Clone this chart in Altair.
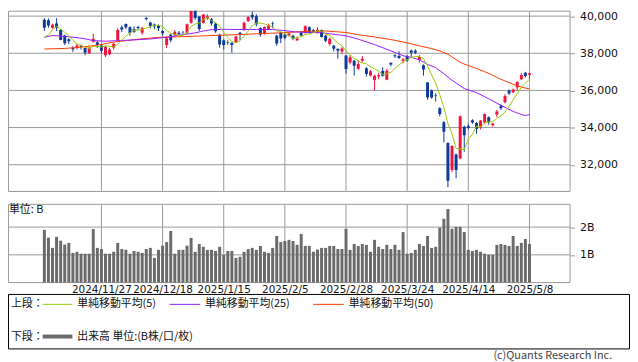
import altair as alt
import pandas as pd

# ---------------- data ----------------
month_days = [
    ("2024/11", [7, 8, 11, 12, 13, 14, 15, 18, 19, 20, 21, 22, 25, 26, 27, 28, 29]),
    ("2024/12", [2, 3, 4, 5, 6, 9, 10, 11, 12, 13, 16, 17, 18, 19, 20, 23, 24, 25, 26, 27, 30]),
    ("2025/1", [6, 7, 8, 9, 10, 14, 15, 16, 17, 20, 21, 22, 23, 24, 27, 28, 29, 30, 31]),
    ("2025/2", [3, 4, 5, 6, 7, 10, 12, 13, 14, 17, 18, 19, 20, 21, 25, 26, 27, 28]),
    ("2025/3", [3, 4, 5, 6, 7, 10, 11, 12, 13, 14, 17, 18, 19, 21, 24, 25, 26, 27, 28, 31]),
    ("2025/4", [1, 2, 3, 4, 7, 8, 9, 10, 11, 14, 15, 16, 17, 18, 21, 22, 23, 24, 25, 28, 30]),
    ("2025/5", [1, 2, 7, 8]),
]
dates = [f"{m}/{d}" for m, ds in month_days for d in ds]

opens = [39800, 39780, 39380, 39600, 39250, 38960, 38750, 38300, 38300, 38400,
         38280, 38000, 38620, 38600, 38420, 37900, 37950, 38300, 38700, 39400,
         39570, 39400, 39300, 39420, 39100, 39900, 39660, 39550, 39470, 39200,
         38450, 39000, 38980, 39110, 39150, 39100, 39650, 40300, 39980, 39630,
         39900, 39840, 39600, 39000, 38700, 38600, 38560, 38600, 39100, 39270,
         39720, 40070, 40000, 39360, 39090, 39300, 39600, 38950, 39100, 39000,
         38950, 38950, 38700, 39100, 39130, 39400, 39250, 39150, 39250, 38950,
         38500, 38400, 38250, 38100, 37880, 37500, 37600, 37170, 37600, 37200,
         36800, 36560, 36750, 37050, 36580, 37490, 37900, 37850, 37600, 37850,
         38150, 38130, 37650, 37350, 36430, 36000, 35750, 35040, 34290, 33170,
         31720, 32550, 32340, 34050, 34070, 34400, 34240, 34000, 34290, 34560,
         34120, 34700, 35180, 35360, 36000, 35900, 36160, 36600, 36950, 36850]
highs = [39890, 39880, 39600, 39890, 39300, 39000, 38800, 38380, 38500, 38450,
         38300, 38350, 39050, 38650, 38500, 38400, 38300, 38560, 39350, 39500,
         39600, 39450, 39450, 39480, 39400, 39960, 39700, 39600, 39560, 39250,
         38900, 39050, 39250, 39200, 39200, 39600, 40398, 40350, 40000, 40100,
         40100, 39900, 39650, 39050, 38750, 38700, 38600, 38950, 39150, 39700,
         40000, 40250, 40100, 39400, 39450, 39600, 39700, 39000, 39150, 39050,
         39100, 39000, 38900, 39150, 39500, 39450, 39300, 39400, 39280, 39000,
         38850, 38450, 38250, 38350, 37900, 37900, 37650, 37600, 37850, 37250,
         37100, 36850, 36950, 37250, 37150, 37500, 37950, 38100, 37750, 37900,
         38200, 38220, 37900, 37400, 36450, 36050, 35850, 35100, 34350, 33200,
         33050, 32600, 34650, 34100, 34200, 34450, 34300, 34400, 34750, 34600,
         34250, 34950, 35250, 35800, 36050, 36100, 36500, 36950, 37000, 36960]
lows = [39200, 39380, 39320, 39200, 38700, 38450, 38500, 38080, 38200, 38200,
        37900, 37950, 38580, 38280, 38000, 37800, 37900, 38200, 38650, 39150,
        39300, 38950, 39100, 39250, 39000, 39760, 39350, 39300, 39200, 38950,
        38285, 38600, 38900, 38980, 39050, 39050, 39600, 39800, 39200, 39600,
        39800, 39500, 39100, 38300, 38200, 38450, 38030, 38550, 38700, 39200,
        39700, 39800, 39450, 38900, 39000, 39250, 39350, 38400, 38550, 38750,
        38900, 38700, 38650, 38900, 39050, 39050, 39100, 39050, 38850, 38600,
        38400, 38100, 37700, 37950, 36900, 37400, 36800, 37100, 37500, 36750,
        36750, 36000, 36600, 36750, 36550, 37300, 37750, 37700, 37450, 37550,
        37800, 37950, 37500, 36800, 35500, 35550, 35400, 34600, 33200, 30792,
        31600, 31270, 32300, 32700, 33900, 34200, 33670, 33900, 34200, 34150,
        34050, 34560, 34950, 35300, 35750, 35850, 35980, 36550, 36700, 36600]
closes = [39381, 39500, 39533, 39376, 38721, 38535, 38642, 38220, 38414, 38352,
          38026, 38283, 38780, 38442, 38134, 38349, 38208, 38513, 39248, 39276,
          39395, 39091, 39160, 39367, 39372, 39849, 39470, 39457, 39364, 39081,
          38813, 38701, 39161, 39037, 39130, 39568, 40281, 39894, 39307, 40083,
          39981, 39605, 39190, 38474, 38444, 38572, 38451, 38902, 39027, 39646,
          39958, 39931, 39565, 39016, 39414, 39513, 39572, 38520, 38798, 38831,
          39066, 38787, 38801, 38963, 39461, 39149, 39174, 39270, 38878, 38678,
          38776, 38237, 38142, 38256, 37155, 37785, 37331, 37418, 37704, 36887,
          37028, 36793, 36819, 36790, 37053, 37396, 37845, 37751, 37677, 37608,
          38027, 38027, 37799, 37120, 35617, 35624, 35725, 34735, 33780, 31136,
          33012, 31714, 34609, 33585, 33982, 34267, 33920, 34377, 34730, 34280,
          34220, 34868, 35039, 35705, 35840, 36045, 36452, 36831, 36780, 36928]
# the four closes before the first candle (needed by the 5-day average)
prior_closes = [39081, 38054, 38475, 39480]

volumes_b = [1.90, 1.62, 1.25, 1.65, 1.51, 1.37, 1.43, 1.07, 1.11, 1.04,
             1.04, 1.04, 1.93, 1.25, 1.21, 1.04, 1.04, 1.11, 1.43, 1.21,
             1.18, 1.04, 1.14, 1.11, 1.07, 1.21, 1.25, 0.89, 1.18, 1.33,
             1.46, 1.86, 1.04, 1.18, 1.18, 1.33, 1.61, 1.11, 1.39, 1.29,
             1.18, 1.18, 1.14, 1.29, 1.00, 1.14, 1.14, 0.89, 0.93, 1.11,
             1.21, 1.25, 1.18, 1.32, 1.11, 1.07, 1.25, 1.68, 1.46, 1.50,
             1.54, 1.50, 1.36, 1.75, 1.32, 1.32, 1.11, 1.19, 1.25, 1.25,
             1.32, 1.32, 1.21, 1.21, 1.94, 1.18, 1.39, 1.32, 1.39, 1.36,
             1.11, 1.54, 1.29, 1.21, 1.36, 1.21, 1.36, 1.18, 1.82, 1.04,
             1.07, 1.18, 1.39, 1.32, 1.68, 1.25, 1.29, 1.98, 2.30, 2.65,
             1.94, 2.01, 2.01, 1.82, 1.18, 1.14, 1.18, 1.11, 1.04, 1.00,
             1.00, 1.36, 1.39, 1.36, 1.32, 1.68, 1.32, 1.43, 1.57, 1.39]

ma25_idx = [0, 2, 5, 8, 10, 12, 15, 18, 22, 26, 29, 31, 33, 35, 37, 39, 41, 44, 48, 52,
            56, 59, 61, 64, 68, 70, 72, 74, 77, 81, 85, 88, 90, 92, 94, 96, 98, 100,
            103, 106, 109, 112, 115, 117, 118, 119]
ma25_val = [38860, 38960, 38910, 38840, 38780, 38680, 38650, 38680, 38720, 38770,
            38840, 38880, 38980, 39030, 39100, 39200, 39270, 39290, 39280, 39280,
            39280, 39220, 39160, 39120, 39110, 39050, 39000, 38940, 38760, 38470,
            38130, 37870, 37780, 37650, 37400, 37230, 36900, 36550,
            36100, 35880, 35550, 35200, 34870, 34700, 34650, 34700]

ma50_idx = [0, 5, 8, 11, 14, 17, 20, 24, 28, 33, 38, 43, 48, 52, 58, 64, 69, 74, 77, 81,
            85, 89, 92, 95, 97, 99, 100, 101, 102, 103, 106, 109, 112, 115, 117, 119]
ma50_val = [38230, 38260, 38310, 38380, 38480, 38600, 38680, 38780, 38860, 38890,
            38930, 38970, 39010, 39050, 39100, 39180, 39200, 39120, 39000, 38880,
            38740, 38560, 38400, 38250, 38130, 37950, 37800, 37660, 37520, 37420,
            37180, 36920, 36600, 36330, 36180, 36080]

tick_idx = [14, 29, 44, 59, 74, 89, 104, 119]
price_ticks = [32000, 34000, 36000, 38000, 40000]
vol_ticks = [1, 2]

# ---------------- styling ----------------
UP, DOWN = "#f0123f", "#0c3a98"
C5, C25, C50 = "#99cc00", "#9a1aff", "#ff3a00"
GRID = "#999999"
VOLC = "#6b6b6b"
NUM_FONT = "DejaVu Sans"
JP_FONT = "Noto Sans CJK JP"

PW = 567            # width of both panels
PH, VH = 182, 79    # heights of price and volume panels

df = pd.DataFrame({"idx": list(range(len(dates))), "date": dates, "open": opens,
                   "high": highs, "low": lows, "close": closes, "vol": volumes_b})
ma_src = pd.DataFrame({"idx": list(range(-len(prior_closes), 0)) + list(range(len(closes))),
                       "close": prior_closes + closes})
ma25_df = pd.DataFrame({"idx": ma25_idx, "ma": ma25_val})
ma50_df = pd.DataFrame({"idx": ma50_idx, "ma": ma50_val})
ticks_df = pd.DataFrame({"idx": tick_idx})
one = pd.DataFrame({"k": [0]})

xscale = alt.Scale(domain=[0, 119], range=[31.7, 531.5], nice=False, zero=False)
pscale = alt.Scale(domain=[32000, 40000], range=[155.5, 5.5], nice=False, zero=False)
vscale = alt.Scale(domain=[0, 2], range=[79.5, 23.5], nice=False, zero=False)

label_expr = " : ".join(f"datum.value == {i} ? '{dates[i]}'" for i in tick_idx) + " : ''"
x_axis = alt.Axis(orient="bottom", values=tick_idx, labelExpr=label_expr,
                  grid=False, domain=False, ticks=False, labelPadding=3, labelFlush=False,
                  labelOverlap=False, title=None, labelFont=NUM_FONT, labelFontSize=10.5,
                  labelColor="#111")
price_axis = alt.Axis(orient="right", values=price_ticks, format=",.0f",
                      grid=False, domain=False, tickSize=5, tickColor=GRID, labelPadding=5,
                      title=None, labelFont=NUM_FONT, labelFontSize=11, labelColor="#111")
vol_axis = alt.Axis(orient="right", values=vol_ticks,
                    labelExpr="datum.value + 'B'", grid=False, domain=False, tickSize=5,
                    tickColor=GRID, labelPadding=5, title=None, labelFont=NUM_FONT,
                    labelFontSize=11, labelColor="#111")

XP = lambda f="idx": alt.X(f"{f}:Q", scale=xscale, axis=None)
XV = lambda f="idx": alt.X(f"{f}:Q", scale=xscale, axis=x_axis)
YP = lambda f: alt.Y(f"{f}:Q", scale=pscale, axis=price_axis)
YV = lambda f: alt.Y(f"{f}:Q", scale=vscale, axis=vol_axis)


def frame(x1, y1, x2, y2, color=GRID):
    return alt.Chart(one).mark_rect(filled=False, fill="transparent", stroke=color,
                                    strokeWidth=1, strokeJoin="bevel").encode(
        x=alt.value(x1), x2=alt.value(x2), y=alt.value(y1), y2=alt.value(y2))


def label(txt, x, y, align="left", font=JP_FONT, size=11, color="#111"):
    return alt.Chart(one).mark_text(text=txt, align=align, baseline="middle", font=font,
                                    fontSize=size, color=color).encode(
        x=alt.value(x), y=alt.value(y))


def seg(x1, x2, y, color, width=1):
    return alt.Chart(one).mark_rule(color=color, strokeWidth=width).encode(
        x=alt.value(x1), x2=alt.value(x2), y=alt.value(y))


# ---------------- price panel ----------------
p_hgrid = alt.Chart(pd.DataFrame({"p": price_ticks})).mark_rule(color=GRID, strokeWidth=1).encode(
    y=YP("p"), x=alt.value(1), x2=alt.value(PW))
p_vgrid = alt.Chart(ticks_df).mark_rule(color=GRID, strokeWidth=1).encode(
    x=XP(), y=alt.value(1), y2=alt.value(PH))
updown = alt.condition("datum.close >= datum.open", alt.value(UP), alt.value(DOWN))
wick = alt.Chart(df).mark_rule(strokeWidth=1, clip=True).encode(
    x=XP(), y=YP("low"), y2="high:Q", color=updown)
body = alt.Chart(df).mark_bar(size=3, clip=True).encode(
    x=XP(), y=YP("open"), y2="close:Q", color=updown)
ma50 = alt.Chart(ma50_df).mark_line(color=C50, strokeWidth=1).encode(x=XP(), y=YP("ma"))
ma25 = alt.Chart(ma25_df).mark_line(color=C25, strokeWidth=1).encode(x=XP(), y=YP("ma"))
ma5 = (alt.Chart(ma_src)
       .transform_window(ma5="mean(close)", frame=[-4, 0], sort=[alt.SortField("idx")])
       .transform_filter("datum.idx >= 0")
       .mark_line(color=C5, strokeWidth=1).encode(x=XP(), y=YP("ma5")))
price = alt.layer(p_hgrid, p_vgrid, frame(0.5, 0.5, PW + 0.5, PH + 0.5),
                  wick, body, ma50, ma25, ma5).properties(width=PW, height=PH)

# ---------------- volume panel (+ legend box below it) ----------------
v_hgrid = alt.Chart(pd.DataFrame({"v": vol_ticks})).mark_rule(color=GRID, strokeWidth=1).encode(
    y=YV("v"), x=alt.value(1), x2=alt.value(PW))
v_vgrid = alt.Chart(ticks_df).mark_rule(color=GRID, strokeWidth=1).encode(
    x=XV(), y=alt.value(1), y2=alt.value(VH))
vbars = alt.Chart(df).mark_bar(size=3, color=VOLC).encode(x=XV(), y=YV("vol"))

ROW1, ROW2 = 101, 134
legend_parts = [
    label("単位: B", 1, 6),
    frame(0.5, 91.5, 627.5, 146.5, color="#000"),
    label("上段：", 3, ROW1),
    seg(35, 65, ROW1 + 0.5, C5), label("単純移動平均(5)", 70, ROW1),
    seg(163, 194, ROW1 + 0.5, C25), label("単純移動平均(25)", 199, ROW1),
    seg(308, 339, ROW1 + 0.5, C50), label("単純移動平均(50)", 344, ROW1),
    label("下段：", 3, ROW2),
    seg(35, 65, ROW2, VOLC, 4), label("出来高 単位:(B株/口/枚)", 70, ROW2),
    label("(c)Quants Research Inc.", 610, 154, align="right", color="#444"),
]
volume = alt.layer(v_hgrid, v_vgrid, frame(0.5, 0.5, PW + 0.5, VH + 0.5), vbars,
                   *legend_parts).properties(width=PW, height=VH)

chart = (alt.vconcat(price, volume, spacing=12)
         .properties(padding=0)
         .configure_view(stroke=None))

chart.save("out.html", embed_options={"renderer": "svg", "actions": False})
